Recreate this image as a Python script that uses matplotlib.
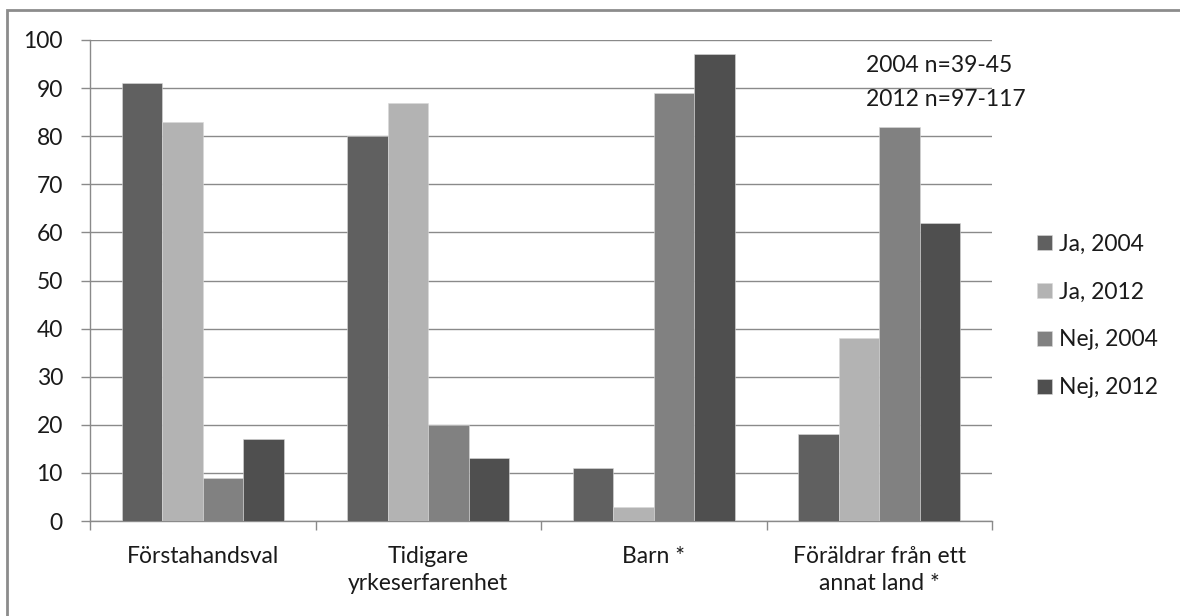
import matplotlib.pyplot as plt
import numpy as np
from matplotlib.patches import Rectangle

categories = ["Förstahandsval", "Tidigare\nyrkeserfarenhet", "Barn *", "Föräldrar från ett\nannat land *"]
series_names = ["Ja, 2004", "Ja, 2012", "Nej, 2004", "Nej, 2012"]
ja_2004 = [91, 80, 11, 18]
ja_2012 = [83, 87, 3, 38]
nej_2004 = [9, 20, 89, 82]
nej_2012 = [17, 13, 97, 62]
series_colors = ["#606060", "#b3b3b3", "#818181", "#4f4f4f"]
y_ticks = list(range(0, 101, 10))
note_lines = ["2004 n=39-45", "2012 n=97-117"]

plt.rcParams["font.family"] = ["Lato", "DejaVu Sans"]
grid_col = "#8a8a8a"
fs = 16.5

fig = plt.figure(figsize=(11.8, 6.16), dpi=100)
ax = fig.add_axes([90 / 1180, 1 - 521 / 616, (992 - 90) / 1180, (521 - 40) / 616])

# outer chart frame (top/left visible)
fig.patches.append(Rectangle((7 / 1180, -0.05), 1.1, 1 - 10 / 616 + 0.05,
                             transform=fig.transFigure, fill=False,
                             edgecolor="#8c8c8c", linewidth=2))

x = np.arange(len(categories))
width = 0.18
all_series = [ja_2004, ja_2012, nej_2004, nej_2012]
for i, (vals, name, col) in enumerate(zip(all_series, series_names, series_colors)):
    ax.bar(x + (i - 1.5) * width, vals, width, color=col, label=name,
           edgecolor="#d9d9d9", linewidth=0.4, zorder=3)

ax.set_xlim(-0.5, len(categories) - 0.5)
ax.set_ylim(0, 100)
ax.set_yticks(y_ticks)
ax.set_yticklabels([str(t) for t in y_ticks], fontsize=fs, color="#1a1a1a")
ax.yaxis.grid(True, color=grid_col, linewidth=1, zorder=0)
ax.set_axisbelow(True)

ax.set_xticks(np.arange(len(categories) + 1) - 0.5)
ax.set_xticklabels([])
ax.set_xticks(x, minor=True)
ax.set_xticklabels(categories, minor=True, fontsize=fs, color="#1a1a1a", linespacing=1.38)
ax.tick_params(axis="x", which="minor", length=0, pad=18)
ax.tick_params(axis="x", which="major", length=6.5, color=grid_col, width=1)
ax.tick_params(axis="y", length=6.5, color=grid_col, width=1, pad=13)

for s in ["top", "right"]:
    ax.spines[s].set_visible(False)
for s in ["left", "bottom"]:
    ax.spines[s].set_color(grid_col)
    ax.spines[s].set_linewidth(1)

for k, line in enumerate(note_lines):
    fig.text(866 / 1180, 1 - (65 + k * 35) / 616, line, fontsize=fs,
             color="#1a1a1a", va="center", ha="left")

ax.legend(loc="center left", bbox_to_anchor=(1.027, (521 - 316) / 481), frameon=False,
          fontsize=fs, handlelength=0.65, handleheight=0.65, handletextpad=0.3,
          labelspacing=1.17, labelcolor="#1a1a1a")

fig.savefig("out.png", dpi=100)
